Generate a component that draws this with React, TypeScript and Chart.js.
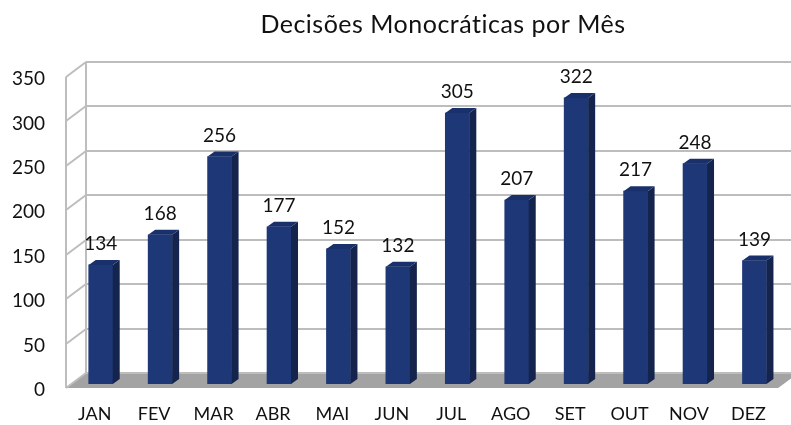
import React, { useEffect, useRef } from "react";
import { Chart, registerables } from "chart.js";
Chart.register(...registerables);

const categories = ["JAN", "FEV", "MAR", "ABR", "MAI", "JUN", "JUL", "AGO", "SET", "OUT", "NOV", "DEZ"];
const decisions = [134, 168, 256, 177, 152, 132, 305, 207, 322, 217, 248, 139];
const yTicks = [0, 50, 100, 150, 200, 250, 300, 350];
const chartTitle = "Decisões Monocráticas por Mês";

const FONT = "Lato, 'Open Sans', sans-serif";
const BACK_DY = -11;
const FRONT_DY = 4;
const BACK_X = 86;
const FRONT_X = 66;
const DEPTH_DX = 7;
const DEPTH_DY = 5;

const wallsPlugin = {
  id: "walls3d",
  beforeDatasetsDraw(chart: any) {
    const { ctx, chartArea } = chart;
    const ys = chart.scales.y;
    const y0 = ys.getPixelForValue(0);
    const yMax = ys.getPixelForValue(yTicks[yTicks.length - 1]);
    ctx.save();
    const frontRight = chartArea.right - 6;
    ctx.fillStyle = "#a3a3a3";
    ctx.beginPath();
    ctx.moveTo(BACK_X, y0 + BACK_DY);
    ctx.lineTo(frontRight + 20, y0 + BACK_DY);
    ctx.lineTo(frontRight, y0 + FRONT_DY);
    ctx.lineTo(FRONT_X, y0 + FRONT_DY);
    ctx.closePath();
    ctx.fill();
    ctx.strokeStyle = "#bdbdbd";
    ctx.lineWidth = 2;
    for (const v of yTicks) {
      const yb = Math.round(ys.getPixelForValue(v) + BACK_DY);
      ctx.beginPath();
      ctx.moveTo(BACK_X, yb);
      ctx.lineTo(chart.width, yb);
      ctx.moveTo(FRONT_X, yb + (FRONT_DY - BACK_DY));
      ctx.lineTo(BACK_X, yb);
      ctx.stroke();
    }
    ctx.beginPath();
    ctx.moveTo(BACK_X, yMax + BACK_DY);
    ctx.lineTo(BACK_X, y0 + BACK_DY);
    ctx.moveTo(FRONT_X, yMax + FRONT_DY);
    ctx.lineTo(FRONT_X, y0 + FRONT_DY);
    ctx.stroke();
    ctx.restore();
  },
  afterDatasetsDraw(chart: any) {
    const { ctx } = chart;
    const meta = chart.getDatasetMeta(0);
    ctx.save();
    meta.data.forEach((bar: any, i: number) => {
      const { x, y, base, width } = bar.getProps(["x", "y", "base", "width"], true);
      const left = x - width / 2;
      const right = x + width / 2;
      ctx.fillStyle = "#14244d";
      ctx.beginPath();
      ctx.moveTo(right, y);
      ctx.lineTo(right + DEPTH_DX, y - DEPTH_DY);
      ctx.lineTo(right + DEPTH_DX, base - DEPTH_DY);
      ctx.lineTo(right, base);
      ctx.closePath();
      ctx.fill();
      ctx.fillStyle = "#1a306a";
      ctx.beginPath();
      ctx.moveTo(left, y);
      ctx.lineTo(left + DEPTH_DX, y - DEPTH_DY);
      ctx.lineTo(right + DEPTH_DX, y - DEPTH_DY);
      ctx.lineTo(right, y);
      ctx.closePath();
      ctx.fill();
      ctx.fillStyle = "#111111";
      ctx.font = `19px ${FONT}`;
      ctx.textAlign = "center";
      ctx.textBaseline = "middle";
      ctx.fillText(String(decisions[i]), x, y - 21);
    });
    ctx.fillStyle = "#111111";
    ctx.font = `25px ${FONT}`;
    (ctx as any).letterSpacing = "0.5px";
    ctx.textAlign = "center";
    ctx.textBaseline = "alphabetic";
    ctx.fillText(chartTitle, 443, 33);
    ctx.restore();
  },
};

export default function App() {
  const ref = useRef<HTMLCanvasElement | null>(null);
  useEffect(() => {
    if (!ref.current) return;
    const chart = new Chart(ref.current, {
      type: "bar",
      data: {
        labels: categories,
        datasets: [
          {
            data: decisions,
            backgroundColor: "#1e3877",
            borderWidth: 0,
            barThickness: 24,
          },
        ],
      },
      options: {
        responsive: false,
        animation: false,
        layout: { padding: { top: 73, right: 2, left: 0, bottom: 0 } },
        plugins: {
          legend: { display: false },
          title: { display: false },
          tooltip: { enabled: false },
        },
        scales: {
          x: {
            grid: { display: false, drawTicks: false },
            border: { display: false },
            ticks: {
              color: "#111111",
              font: { family: FONT, size: 18 },
              padding: 19,
              labelOffset: -6,
              maxRotation: 0,
            },
            afterFit(scale: any) {
              scale.height = 41;
            },
          },
          y: {
            min: 0,
            max: 350,
            grid: { display: false, drawTicks: false },
            border: { display: false },
            ticks: {
              stepSize: 50,
              color: "#111111",
              font: { family: FONT, size: 19 },
              padding: 26,
              labelOffset: 6,
            },
            afterFit(scale: any) {
              scale.width = 71;
            },
          },
        },
      },
      plugins: [wallsPlugin],
    });
    return () => chart.destroy();
  }, []);
  return (
    <div style={{ position: "fixed", left: 0, top: 0, width: 791, height: 425, background: "#fff" }}>
      <canvas ref={ref} width={791} height={425} />
    </div>
  );
}
